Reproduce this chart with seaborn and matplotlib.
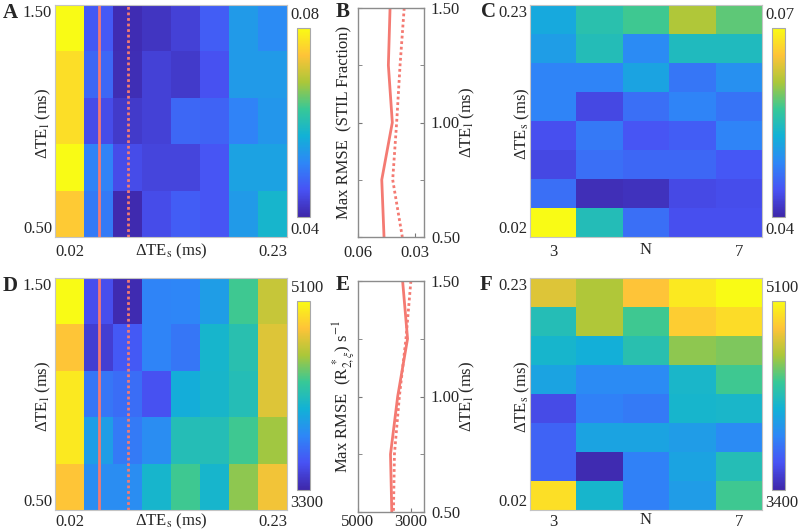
import numpy as np
import pandas as pd
import matplotlib
matplotlib.use('Agg')
import matplotlib.pyplot as plt
import seaborn as sns
from matplotlib.colors import LinearSegmentedColormap

#-----------------------------------------------------------------------------------------------------------------------
"""Data"""
te_l = [1.50, 1.25, 1.00, 0.75, 0.50]                       # rows of A / D, top to bottom
te_s = [0.02, 0.05, 0.08, 0.11, 0.14, 0.17, 0.20, 0.23]     # columns of A / D
te_s_desc = te_s[::-1]                                      # rows of C / F, top to bottom
n_echo = [3, 4, 5, 6, 7]                                    # columns of C / F
te_s_solid = 0.05
te_s_dotted = 0.08

# A: max RMSE (STIL fraction), rows = dTE_l, cols = dTE_s
stil_grid = [
    [0.0800, 0.0465, 0.0408, 0.0420, 0.0435, 0.0470, 0.0540, 0.0520],
    [0.0770, 0.0480, 0.0410, 0.0435, 0.0425, 0.0455, 0.0540, 0.0540],
    [0.0770, 0.0450, 0.0425, 0.0435, 0.0480, 0.0475, 0.0510, 0.0535],
    [0.0800, 0.0510, 0.0450, 0.0440, 0.0440, 0.0460, 0.0550, 0.0550],
    [0.0750, 0.0500, 0.0405, 0.0450, 0.0470, 0.0460, 0.0540, 0.0580],
]
# B: max RMSE along dTE_l
stil_solid = [0.0430, 0.0439, 0.0418, 0.0474, 0.0462]
stil_dotted = [0.0355, 0.0377, 0.0395, 0.0416, 0.0365]
# C: max RMSE (STIL fraction), rows = dTE_s (0.23 at top), cols = N
stil_n_grid = [
    [0.0520, 0.0556, 0.0574, 0.0616, 0.0586],
    [0.0508, 0.0550, 0.0490, 0.0545, 0.0545],
    [0.0484, 0.0484, 0.0514, 0.0472, 0.0496],
    [0.0484, 0.0433, 0.0466, 0.0484, 0.0470],
    [0.0440, 0.0475, 0.0445, 0.0452, 0.0484],
    [0.0433, 0.0466, 0.0460, 0.0460, 0.0448],
    [0.0466, 0.0409, 0.0412, 0.0435, 0.0438],
    [0.0700, 0.0550, 0.0466, 0.0440, 0.0440],
]
# D: max RMSE R2* (s^-1)
r2_grid = [
    [5100, 3535, 3335, 3800, 3810, 3950, 4345, 4670],
    [4850, 3445, 3590, 3800, 3730, 4110, 4235, 4740],
    [5010, 3730, 3690, 3550, 4050, 4120, 4200, 4740],
    [5010, 3950, 3750, 3850, 4200, 4200, 4345, 4560],
    [4850, 3850, 3850, 4110, 4345, 4110, 4520, 4800],
]
# E
r2_solid = [3310, 3123, 3497, 3769, 3720]
r2_dotted = [2997, 3183, 3433, 3620, 3657]
# F
r2_n_grid = [
    [4760, 4625, 4860, 5015, 5100],
    [4250, 4625, 4385, 4895, 4965],
    [4165, 4115, 4280, 4555, 4520],
    [4045, 3910, 3910, 4180, 4385],
    [3605, 3860, 3825, 4165, 4180],
    [3725, 4045, 4045, 4010, 3910],
    [3725, 3430, 3860, 4045, 4250],
    [4980, 4165, 3860, 4010, 4385],
]

#-----------------------------------------------------------------------------------------------------------------------
"""Style"""
sns.set_style('white')
plt.rcParams['font.family'] = ['Liberation Serif', 'DejaVu Serif']
plt.rcParams['mathtext.fontset'] = 'stix'
plt.rcParams['font.size'] = 12

parula = LinearSegmentedColormap.from_list('parula', [
    (0.2422, 0.1504, 0.6603), (0.2810, 0.3228, 0.9579), (0.1786, 0.5289, 0.9682),
    (0.0689, 0.6948, 0.8394), (0.2161, 0.7843, 0.5923), (0.6720, 0.7793, 0.2227),
    (0.9970, 0.7659, 0.2199), (0.9769, 0.9839, 0.0805)])
red = '#f47a72'
dots = (0, (1, 1))
W, H = 800, 532

def px(x0, y0, x1, y1):
    return [x0 / W, 1 - y1 / H, (x1 - x0) / W, (y1 - y0) / H]

fig = plt.figure(figsize=(8, 5.32), dpi=100)

#-----------------------------------------------------------------------------------------------------------------------
"""Helpers"""
def heat(ax, cax, grid, rows, cols, vmin, vmax, fmt, xfmt, xlab, ylab, ylab_x, xpad=5, xlab_y=-0.022):
    df = pd.DataFrame(grid, index=rows, columns=cols)
    sns.heatmap(df, ax=ax, cmap=parula, vmin=vmin, vmax=vmax, cbar_ax=cax, cbar_kws={'ticks': []})
    for s in ax.spines.values():
        s.set_visible(True)
        s.set_color('#c4c4c4')
        s.set_linewidth(0.8)
    cb = ax.collections[0].colorbar
    cb.outline.set_edgecolor('#a8a8a8')
    cb.outline.set_linewidth(0.8)
    cax.text(-0.5, 1.07, fmt.format(vmax), transform=cax.transAxes, ha='left', va='center')
    cax.text(-0.5, -0.07, fmt.format(vmin), transform=cax.transAxes, ha='left', va='center')
    ax.set_xticks([0.5, len(cols) - 0.5])
    ax.set_xticklabels([xfmt.format(cols[0]), xfmt.format(cols[-1])], rotation=0)
    ax.set_yticks([0, len(rows)])
    ax.set_yticklabels(['{:.2f}'.format(rows[0]), '{:.2f}'.format(rows[-1])], rotation=0)
    yl = ax.get_yticklabels()
    yl[0].set_va('top')
    yl[1].set_va('bottom')
    ax.tick_params(length=0, pad=2)
    ax.tick_params(axis='x', pad=xpad)
    ax.set_xlabel(xlab, va='top')
    ax.xaxis.set_label_coords(0.5, xlab_y)
    ax.set_ylabel('')
    ax.text(ylab_x, 0.49, ylab, rotation=90, transform=ax.transAxes, ha='center', va='center')


def lines(ax, solid, dotted, xlim, xticks, xfmt, ylab, xpad):
    sns.lineplot(x=solid, y=te_l, orient='y', sort=False, estimator=None, ax=ax, color=red, lw=2)
    sns.lineplot(x=dotted, y=te_l, orient='y', sort=False, estimator=None, ax=ax, color=red, lw=2, linestyle=dots)
    ax.set_xlim(*xlim)
    ax.set_ylim(min(te_l), max(te_l))
    ax.set_xticks(xticks)
    ax.set_xticklabels([xfmt.format(v) for v in xticks])
    ax.set_yticks([0.5, 1.0, 1.5])
    ax.set_yticks([0.75, 1.25], minor=True)
    ax.set_yticklabels(['0.50', '1.00', '1.50'])
    yl = ax.get_yticklabels()
    yl[0].set_va('bottom')
    yl[-1].set_va('top')
    ax.tick_params(axis='both', which='both', direction='in', length=3, color='#777777', pad=5)
    ax.tick_params(axis='y', which='both', left=True, right=True, labelleft=False, labelright=True)
    ax.tick_params(axis='x', bottom=True, top=False, pad=xpad)
    for s in ax.spines.values():
        s.set_color('#8c8c8c')
        s.set_linewidth(1)
    ax.set_xlabel('')
    ax.set_ylabel('')
    ax.text(-0.21, 0.5, ylab, rotation=90, transform=ax.transAxes, ha='center', va='center')
    ax.text(1.66, 0.5, r'ΔTE$_\mathrm{l}$ (ms)', rotation=90, transform=ax.transAxes, ha='center', va='center')

#-----------------------------------------------------------------------------------------------------------------------
"""Panels"""
te_s_lab = r'ΔTE$_\mathrm{s}$ (ms)'
te_l_lab = r'ΔTE$_\mathrm{l}$ (ms)'

axA = fig.add_axes(px(55, 5, 287, 237))
caxA = fig.add_axes(px(297, 28, 310, 217))
heat(axA, caxA, stil_grid, te_l, te_s, 0.04, 0.08, '{:.2f}', '{:.2f}', te_s_lab, te_l_lab, -0.052)

axB = fig.add_axes(px(358, 8, 424, 237))
lines(axB, stil_solid, stil_dotted, (0.06, 0.025), [0.06, 0.03], '{:.2f}', 'Max RMSE  (STIL Fraction)', 6)

axC = fig.add_axes(px(530, 5, 762, 237))
caxC = fig.add_axes(px(772, 28, 785, 217))
heat(axC, caxC, stil_n_grid, te_s_desc, n_echo, 0.04, 0.07, '{:.2f}', '{}', 'N', te_s_lab, -0.034)

axD = fig.add_axes(px(55, 278, 287, 510))
caxD = fig.add_axes(px(297, 301, 310, 490))
heat(axD, caxD, r2_grid, te_l, te_s, 3300, 5100, '{}', '{:.2f}', te_s_lab, te_l_lab, -0.052,
     xpad=3, xlab_y=-0.008)

axE = fig.add_axes(px(358, 281, 424, 512))
lines(axE, r2_solid, r2_dotted, (5000, 2500), [5000, 3000], '{}', r'Max RMSE  (R$_{2,\xi}^{\,*}$) s$^{-1}$', 1.5)

axF = fig.add_axes(px(530, 278, 762, 510))
caxF = fig.add_axes(px(772, 301, 785, 490))
heat(axF, caxF, r2_n_grid, te_s_desc, n_echo, 3400, 5100, '{}', '{}', 'N', te_s_lab, -0.034,
     xpad=3, xlab_y=-0.008)

# selected dTE_s markers on the dTE_s x dTE_l maps
for ax in (axA, axD):
    ax.axvline(te_s.index(te_s_solid) + 0.5, color=red, lw=2)
    ax.axvline(te_s.index(te_s_dotted) + 0.5, color=red, lw=2, linestyle=dots)

# panel letters
for letter, (x, y) in zip('ABCDEF', [(10, 13), (343, 12), (488, 12), (10, 286), (343, 285), (486, 285)]):
    fig.text(x / W, 1 - y / H, letter, fontsize=15, fontweight='bold', ha='center', va='center')

fig.savefig('out.png', dpi=100)
